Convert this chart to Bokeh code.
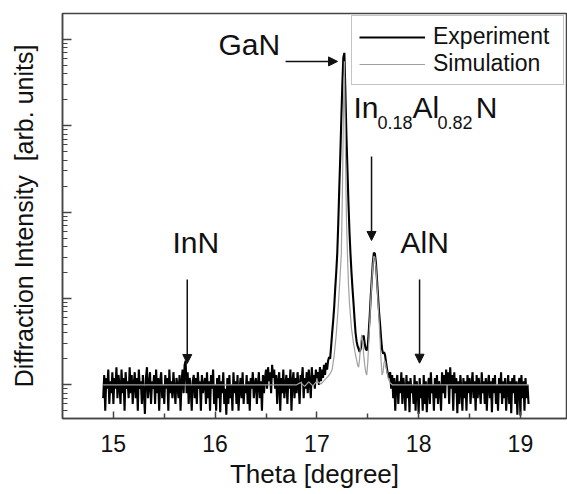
import numpy as np
from bokeh.plotting import figure
from bokeh.models import (Range1d, FixedTicker, Label, Arrow,
                          NormalHead, CustomJSTickFormatter)
from bokeh.embed import file_html
from bokeh.resources import INLINE

# ---------------- data ----------------
theta_start = 14.90      # first scan point [degree]
theta_step = 0.01        # scan step [degree]

# measured intensity (counts) from 14.90 to 19.08
experiment = [
    # 14.90 - 16.99
    7, 13, 5, 12, 9, 15, 6, 11, 8, 14,
    6, 12, 9, 16, 7, 13, 10, 6, 15, 8,
    12, 5, 14, 9, 11, 7, 16, 8, 13, 6,
    10, 14, 7, 12, 5, 15, 9, 11, 6, 13,
    8, 4.6, 12, 16, 7, 10, 14, 6, 11, 9,
    13, 6, 15, 8, 12, 5, 11, 14, 7, 10,
    6, 13, 9, 12, 5, 15, 8, 11, 7, 14,
    9, 6, 12, 10, 7, 13, 5, 11, 15, 8,
    17, 19, 8, 14, 6, 12, 9, 5, 11, 13,
    7, 12, 6, 14, 9, 11, 5, 13, 8, 10,
    12, 6, 14, 7, 11, 5, 13, 9, 15, 6,
    10, 5, 12, 7, 13, 4.8, 11, 8, 14, 6,
    9, 4.5, 12, 6, 13, 7, 10, 5, 14, 8,
    11, 6, 13, 5, 9, 12, 7, 14, 6, 10,
    8, 13, 6, 11, 5, 12, 9, 14, 7, 10,
    12, 6, 10, 14, 7, 11, 5, 13, 8, 12,
    15, 9, 16, 11, 14, 8, 17, 12, 15, 9,
    13, 6, 11, 14, 5, 12, 8, 15, 7, 10,
    13, 6, 12, 9, 15, 5, 11, 14, 7, 12,
    8, 14, 10, 6, 13, 11, 16, 7, 12, 9,
    14, 8, 15, 11, 7, 16, 10, 13, 9, 15,
    # 17.00 - 17.74 (GaN and InAlN peaks)
    12, 14, 10, 16, 11, 15, 12, 17, 13, 18,
    15, 19, 21, 20, 28, 40, 55, 80, 130, 200,
    330, 740, 1900, 4500, 12000, 30000, 62000, 70000, 25000, 8000,
    3200, 1300, 600, 330, 200, 130, 88, 58, 40, 32,
    28, 26, 24, 26, 31, 36, 37, 30, 26, 25,
    28, 42, 65, 110, 170, 260, 340, 330, 260, 170,
    110, 72, 52, 36, 26, 23, 24, 22, 18, 15,
    13, 12, 14, 9, 13,
    # 17.75 - 19.08
    7, 12, 5, 10, 13, 6, 11, 8, 14, 6,
    12, 9, 5, 13, 7, 11, 4.8, 12, 8, 10,
    6, 13, 5, 11, 9, 4.6, 12, 7, 10, 5,
    13, 6, 11, 4.8, 9, 12, 6, 14, 8, 10,
    5, 12, 7, 13, 6, 11, 9, 5, 14, 8,
    13, 7, 15, 10, 14, 6, 16, 9, 13, 5,
    14, 8, 12, 4.7, 11, 6, 13, 9, 5, 12,
    7, 11, 5, 13, 8, 12, 6, 10, 14, 7,
    11, 5, 13, 7, 12, 9, 6, 14, 8, 11,
    6, 12, 5, 10, 13, 7, 11, 4.8, 12, 8,
    13, 6, 10, 5, 12, 8, 14, 6, 11, 7,
    12, 5, 9, 13, 6, 11, 4.7, 12, 8, 13,
    6, 11, 4.5, 10, 12, 4.4, 13, 7, 11, 5,
    12, 7, 10, 6,
]

sim_theta = [14.90, 16.80, 16.84, 16.88, 16.92, 16.96, 17.00, 17.04, 17.08, 17.11,
             17.13, 17.15, 17.17, 17.19, 17.21, 17.23, 17.24, 17.25, 17.26, 17.27,
             17.28, 17.29, 17.30, 17.31, 17.32, 17.34, 17.36, 17.38, 17.40, 17.41,
             17.42, 17.43, 17.44, 17.45, 17.46, 17.47, 17.48, 17.49, 17.50, 17.51,
             17.52, 17.53, 17.54, 17.55, 17.56, 17.57, 17.58, 17.59, 17.60, 17.61,
             17.62, 17.63, 17.64, 17.65, 17.66, 17.67, 17.68, 17.70, 17.72, 17.74,
             19.08]
sim_counts = [10, 10, 10.6, 9.6, 10.8, 9.7, 11, 10.2, 11.5, 12.5,
              13.5, 15, 22, 38, 80, 200, 330, 1500, 12000, 56000,
              6000, 900, 330, 150, 88, 45, 30, 22, 17, 16,
              20, 30, 38, 32, 22, 17, 14, 13, 18, 32,
              55, 100, 160, 240, 310, 300, 230, 150, 95, 60,
              34, 20, 13, 14, 18, 19, 16, 12, 10.5, 10,
              10]

x_ticks = [15, 16, 17, 18, 19]
x_minor = [15.5, 16.5, 17.5, 18.5]
y_decades = [1e1, 1e2, 1e3, 1e4, 1e5]
y_minor = [m * 10.0 ** e for e in range(0, 6) for m in range(2, 10)]

theta = [round(theta_start + i * theta_step, 2) for i in range(len(experiment))]

FONT = "Liberation Sans"
INK = "#111111"
FRAME = "#444444"

p = figure(width=567, height=494,
           x_range=Range1d(14.5, 19.453), y_range=Range1d(4.07, 2.0e5),
           y_axis_type="log", output_backend="svg", toolbar_location=None,
           min_border_left=62, min_border_right=1, min_border_top=13,
           min_border_bottom=76)

p.grid.visible = False
p.outline_line_color = FRAME
p.outline_line_width = 1.5
p.background_fill_color = "white"
p.border_fill_color = "white"

# x axis
xa = p.xaxis[0]
xa.ticker = FixedTicker(ticks=x_ticks, minor_ticks=x_minor)
xa.axis_label = "Theta [degree]"
xa.axis_label_text_font = FONT
xa.axis_label_text_font_size = "26px"
xa.axis_label_text_font_style = "normal"
xa.axis_label_text_color = INK
xa.axis_label_standoff = 4
xa.major_label_text_font = FONT
xa.major_label_text_font_size = "23px"
xa.major_label_text_color = INK
xa.major_label_standoff = 16
xa.major_tick_in = 7
xa.major_tick_out = 0
xa.minor_tick_in = 5
xa.minor_tick_out = 0
xa.major_tick_line_color = FRAME
xa.minor_tick_line_color = FRAME
xa.major_tick_line_width = 1.5
xa.minor_tick_line_width = 1.5
xa.axis_line_color = FRAME
xa.axis_line_width = 1.5

# y axis (log, no numbers)
ya = p.yaxis[0]
ya.ticker = FixedTicker(ticks=y_decades, minor_ticks=y_minor)
ya.formatter = CustomJSTickFormatter(code="return ''")
ya.axis_label = "Diffraction Intensity\u00a0\u00a0[arb. units]"
ya.axis_label_text_font = FONT
ya.axis_label_text_font_size = "25px"
ya.axis_label_text_font_style = "normal"
ya.axis_label_text_color = INK
ya.axis_label_standoff = 25
ya.major_label_standoff = 0
ya.major_tick_in = 9
ya.major_tick_out = 0
ya.minor_tick_in = 5
ya.minor_tick_out = 0
ya.major_tick_line_color = FRAME
ya.minor_tick_line_color = FRAME
ya.major_tick_line_width = 1.5
ya.minor_tick_line_width = 1.2
ya.axis_line_color = FRAME
ya.axis_line_width = 1.5

# curves
p.line(theta, experiment, line_color="black", line_width=2.1,
       legend_label="Experiment")
p.line(sim_theta, sim_counts, line_color="#a0a0a0", line_width=1.2,
       legend_label="Simulation")

leg = p.legend[0]
leg.location = "top_right"
leg.margin = 2
leg.padding = 7
leg.spacing = 0
leg.glyph_width = 66
leg.glyph_height = 24
leg.label_standoff = 8
leg.label_width = 123
leg.label_text_font = FONT
leg.label_text_font_size = "23px"
leg.label_text_color = INK
leg.border_line_color = "#8a8a8a"
leg.border_line_width = 1
leg.background_fill_alpha = 1.0

# annotations
def lab(x, y, t, size):
    p.add_layout(Label(x=x, y=y, text=t, text_font=FONT, text_font_size=size,
                       text_color=INK, text_baseline="alphabetic", text_align="left"))

lab(16.033, 10 ** 4.94, "GaN", "30px")
lab(15.581, 10 ** 2.65, "InN", "30px")
lab(17.822, 10 ** 2.65, "AlN", "30px")
lab(17.360, 10 ** 4.21, "In", "30px")
lab(17.596, 10 ** 4.035, "0.18", "18px")
lab(17.940, 10 ** 4.21, "Al", "30px")
lab(18.185, 10 ** 4.035, "0.82", "18px")
lab(18.560, 10 ** 4.21, "N", "30px")

def arrow(x0, y0, x1, y1):
    p.add_layout(Arrow(end=NormalHead(size=9, fill_color="#111111",
                                      line_color="#111111", line_width=1),
                       x_start=x0, y_start=y0, x_end=x1, y_end=y1,
                       line_color="#111111", line_width=1.5))

arrow(16.692, 10 ** 4.746, 17.203, 10 ** 4.746)
arrow(15.726, 10 ** 2.22, 15.726, 10 ** 1.247)
arrow(17.537, 10 ** 3.645, 17.537, 10 ** 2.672)
arrow(18.009, 10 ** 2.22, 18.009, 10 ** 1.25)

open("out.html", "w").write(file_html(p, INLINE))
